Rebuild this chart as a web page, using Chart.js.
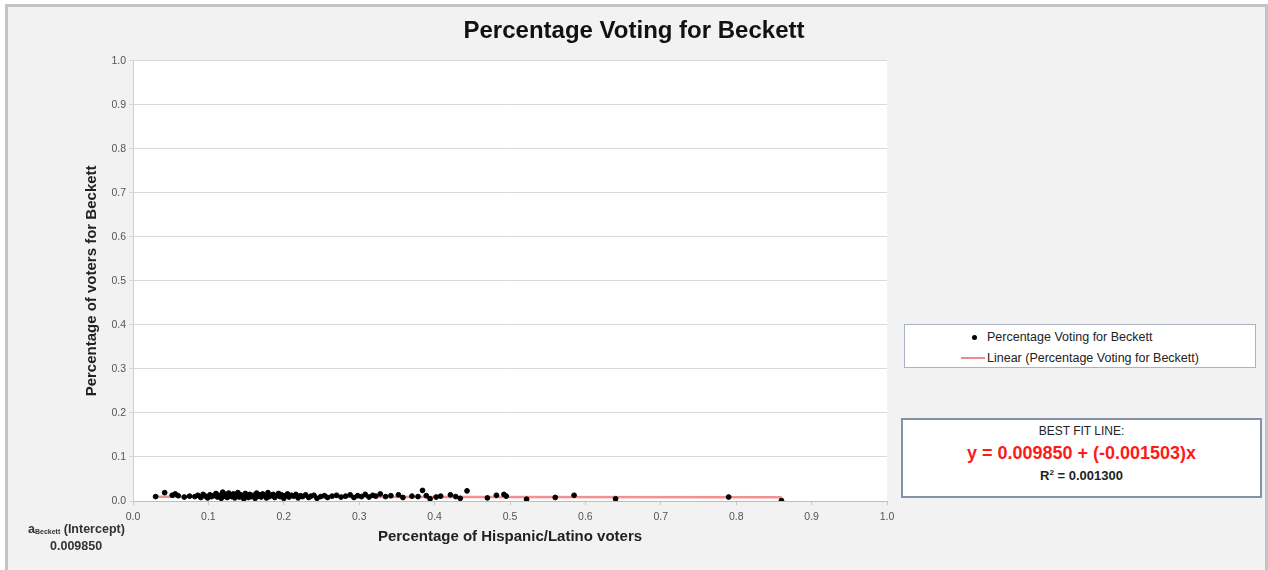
<!DOCTYPE html>
<html>
<head>
<meta charset="utf-8">
<script src="https://cdn.jsdelivr.net/npm/chart.js@4/dist/chart.umd.min.js"></script>
<style>
  body { margin: 0; background: #fff; font-family: "Liberation Sans", Arial, sans-serif; }
  #wrap { position: relative; width: 1268px; height: 570px; overflow: hidden; }
  canvas { position: absolute; left: 0; top: 0; }
  .box { position: absolute; background: #fff; box-sizing: border-box; }
  #legend { left: 904px; top: 324px; width: 352px; height: 44px; border: 1px solid #a9b3c3; }
  #legend .row { position: absolute; font-size: 12.5px; line-height: 14px; color: #222; white-space: nowrap; }
  #legend .dot { position: absolute; width: 5px; height: 5px; border-radius: 50%; background: #000; }
  #legend .ln { position: absolute; height: 2px; background: #f08a8a; }
  #fit { left: 901px; top: 418px; width: 361px; height: 80px; border: 2px solid #8591a6; text-align: center; }
  #fit div { position: absolute; left: 0; right: 0; white-space: nowrap; }
  #fit .t1 { top: 4px; font-size: 12px; line-height: 14px; color: #222; }
  #fit .eq { top: 22px; font-size: 18px; line-height: 22px; font-weight: bold; color: #ff1a1a; }
  #fit .r2 { top: 45px; font-size: 13px; line-height: 16px; font-weight: bold; color: #222; }
  #note { position: absolute; left: 28px; top: 522px; font-size: 12.5px; font-weight: bold; color: #333; line-height: 14px; white-space: nowrap; }
  #note sub { font-size: 7px; vertical-align: -1px; }
</style>
</head>
<body>
<div id="wrap">
  <canvas id="chart" width="1268" height="570"></canvas>
  <div id="legend" class="box">
    <span class="dot" style="left:67px; top:10px;"></span>
    <span class="row" style="left:82px; top:5px;">Percentage Voting for Beckett</span>
    <span class="ln" style="left:56px; top:32px; width:24px;"></span>
    <span class="row" style="left:82px; top:26px;">Linear (Percentage Voting for Beckett)</span>
  </div>
  <div id="fit" class="box">
    <div class="t1">BEST FIT LINE:</div>
    <div class="eq">y = 0.009850 + (-0.001503)x</div>
    <div class="r2">R<sup style="font-size:8px">2</sup> = 0.001300</div>
  </div>
  <div id="note">a<sub>Beckett</sub> (Intercept)<br><span style="padding-left:22px">0.009850</span></div>
</div>
<script>
// --- Data ---
const hispanicShare = [
  0.030, 0.042, 0.052, 0.056, 0.060, 0.068, 0.075, 0.082, 0.086, 0.090,
  0.093, 0.096, 0.099, 0.102, 0.104, 0.107, 0.110, 0.112, 0.114, 0.117,
  0.119, 0.121, 0.123, 0.125, 0.127, 0.129, 0.131, 0.133, 0.135, 0.137,
  0.139, 0.141, 0.143, 0.145, 0.147, 0.149, 0.151, 0.153, 0.155, 0.157,
  0.160, 0.162, 0.164, 0.166, 0.168, 0.170, 0.172, 0.175, 0.177, 0.179,
  0.181, 0.183, 0.186, 0.188, 0.190, 0.193, 0.195, 0.197, 0.200, 0.202,
  0.205, 0.207, 0.210, 0.213, 0.216, 0.219, 0.222, 0.225, 0.229, 0.233,
  0.236, 0.240, 0.244, 0.249, 0.254, 0.258, 0.264, 0.270, 0.276, 0.282,
  0.288, 0.293, 0.298, 0.303, 0.308, 0.313, 0.318, 0.322, 0.328, 0.335,
  0.342, 0.352, 0.358, 0.370, 0.378, 0.384, 0.389, 0.394, 0.402, 0.408,
  0.421, 0.428, 0.434, 0.443, 0.470, 0.482, 0.492, 0.495, 0.522, 0.560,
  0.585, 0.640, 0.790, 0.860
];
const beckettShare = [
  0.010, 0.019, 0.013, 0.016, 0.012, 0.009, 0.011, 0.010, 0.013, 0.008,
  0.015, 0.011, 0.007, 0.014, 0.010, 0.012, 0.017, 0.009, 0.013, 0.006,
  0.020, 0.011, 0.015, 0.008, 0.018, 0.012, 0.010, 0.016, 0.007, 0.013,
  0.019, 0.009, 0.014, 0.011, 0.005, 0.017, 0.012, 0.008, 0.015, 0.010,
  0.013, 0.006, 0.018, 0.011, 0.014, 0.009, 0.016, 0.012, 0.007, 0.019,
  0.010, 0.013, 0.015, 0.008, 0.012, 0.017, 0.010, 0.014, 0.006, 0.012,
  0.016, 0.009, 0.013, 0.011, 0.015, 0.007, 0.012, 0.010, 0.014, 0.008,
  0.011, 0.013, 0.006, 0.010, 0.012, 0.008, 0.011, 0.013, 0.009, 0.011,
  0.014, 0.008, 0.012, 0.010, 0.015, 0.009, 0.013, 0.011, 0.016, 0.010,
  0.012, 0.014, 0.008, 0.011, 0.010, 0.024, 0.012, 0.005, 0.009, 0.011,
  0.014, 0.010, 0.006, 0.023, 0.007, 0.013, 0.015, 0.011, 0.004, 0.008,
  0.013, 0.005, 0.009, 0.001
];
// trend line end points
const trendX = [0.030, 0.860];
const trendY = [0.0098, 0.0086];
const tickValues = [0, 0.1, 0.2, 0.3, 0.4, 0.5, 0.6, 0.7, 0.8, 0.9, 1.0];

const FONT = '"Liberation Sans", Arial, sans-serif';

const backgroundPlugin = {
  id: 'bg',
  beforeDraw(chart) {
    const { ctx, chartArea: a } = chart;
    ctx.save();
    ctx.fillStyle = '#ffffff';
    ctx.fillRect(0, 0, chart.width, chart.height);
    ctx.fillStyle = '#f2f2f2';
    ctx.fillRect(6, 5, 1260, 570);
    ctx.strokeStyle = '#c4c4c4';
    ctx.lineWidth = 3;
    ctx.beginPath();
    ctx.moveTo(6.5, 575); ctx.lineTo(6.5, 5.5); ctx.lineTo(1266.5, 5.5); ctx.lineTo(1266.5, 575);
    ctx.stroke();
    ctx.fillStyle = '#ffffff';
    ctx.fillRect(a.left, a.top, a.right - a.left, a.bottom - a.top);
    ctx.restore();
  }
};

new Chart(document.getElementById('chart'), {
  type: 'scatter',
  data: {
    datasets: [
      {
        label: 'Percentage Voting for Beckett',
        data: hispanicShare.map((x, i) => ({ x, y: beckettShare[i] })),
        backgroundColor: '#000',
        borderColor: '#000',
        pointRadius: 2.4,
        order: 1
      },
      {
        label: 'Linear (Percentage Voting for Beckett)',
        type: 'line',
        data: trendX.map((x, i) => ({ x, y: trendY[i] })),
        borderColor: '#f49090',
        borderWidth: 2.5,
        pointRadius: 0,
        fill: false,
        order: 2
      }
    ]
  },
  options: {
    responsive: false,
    devicePixelRatio: 1,
    animation: false,
    layout: { padding: 0 },
    plugins: {
      legend: { display: false },
      tooltip: { enabled: false },
      title: {
        display: true,
        text: 'Percentage Voting for Beckett',
        color: '#111',
        font: { family: FONT, size: 24, weight: 'bold', lineHeight: 1.2 },
        padding: { top: 17, bottom: 15 }
      }
    },
    scales: {
      x: {
        type: 'linear',
        min: 0, max: 1,
        afterBuildTicks: s => { s.ticks = tickValues.map(v => ({ value: v })); },
        afterFit: s => { s.height = 69; },
        ticks: { color: '#555', font: { family: FONT, size: 10.5 }, padding: 6, maxRotation: 0,
                 callback: v => v.toFixed(1) },
        grid: { drawOnChartArea: false, drawTicks: true, tickLength: 4, color: '#c8c8c8' },
        border: { color: '#bdbdbd' },
        title: { display: true, text: 'Percentage of Hispanic/Latino voters', color: '#222',
                 font: { family: FONT, size: 15, weight: 'bold', lineHeight: 1.2 },
                 padding: { top: 0, bottom: 24 } }
      },
      y: {
        type: 'linear',
        min: 0, max: 1,
        afterBuildTicks: s => { s.ticks = tickValues.map(v => ({ value: v })); },
        afterFit: s => { s.width = 133; },
        ticks: { color: '#555', font: { family: FONT, size: 10.5 }, padding: 3,
                 callback: v => v.toFixed(1) },
        grid: { color: '#d9d9d9', tickLength: 4 },
        border: { color: '#d0d0d0' },
        title: { display: true, text: 'Percentage of voters for Beckett', color: '#222',
                 font: { family: FONT, size: 15, weight: 'bold', lineHeight: 1.2 },
                 padding: { top: 83, bottom: 0 } }
      },
      // empty right-hand space that holds the legend and fit boxes
      spacer: {
        type: 'linear',
        position: 'right',
        display: true,
        afterFit: s => { s.width = 381; },
        ticks: { display: false },
        grid: { display: false },
        border: { display: false }
      }
    }
  },
  plugins: [backgroundPlugin]
});
</script>
</body>
</html>
